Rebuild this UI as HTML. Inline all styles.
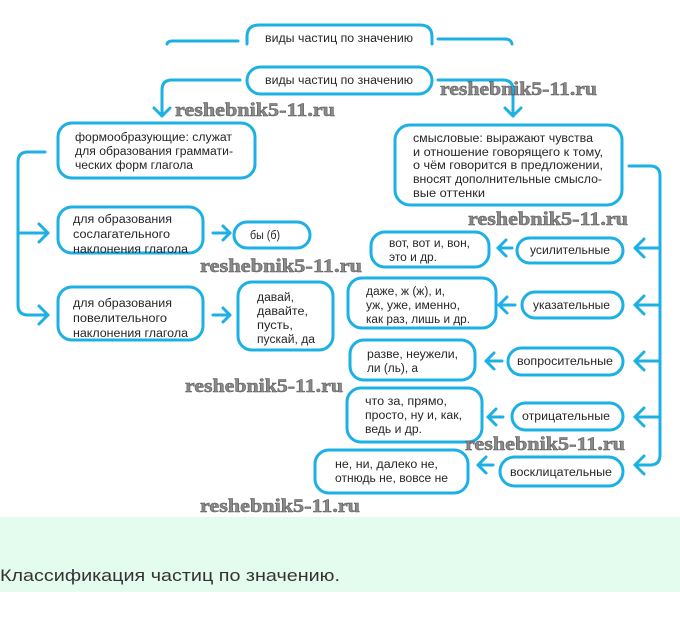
<!DOCTYPE html>
<html>
<head>
<meta charset="utf-8">
<style>
html,body{margin:0;padding:0;background:#fff;}
body{width:680px;height:626px;overflow:hidden;position:relative;}
svg{position:absolute;left:0;top:0;}
.t{font-family:"Liberation Sans","DejaVu Sans",sans-serif;font-size:11.5px;fill:#262626;}
.w{font-family:"Liberation Serif","DejaVu Serif",serif;font-weight:bold;font-size:19px;fill:#8a8a8a;stroke:#555;stroke-width:0.5;}
.b{fill:#fff;stroke:#1cb0e4;stroke-width:3;}
.l{fill:none;stroke:#1cb0e4;stroke-width:3;stroke-linecap:round;stroke-linejoin:round;}
</style>
</head>
<body>
<svg width="680" height="626" viewBox="0 0 680 626" xmlns="http://www.w3.org/2000/svg">
<rect x="0" y="517" width="680" height="75" fill="#e3fcee"/>
<text x="0" y="581" font-family="Liberation Sans, sans-serif" font-size="17" fill="#333" textLength="340" lengthAdjust="spacingAndGlyphs">Классификация частиц по значению.</text>

<!-- header (cropped) -->
<path class="l" d="M247,44 V37 Q247,25 259,25 H420 Q432,25 432,37 V44"/>
<path class="l" d="M167,44 Q168,41 172,41 H238"/>
<path class="l" d="M438,39 H505 Q511,39 512,44"/>
<text class="t" x="265" y="42" textLength="148" lengthAdjust="spacingAndGlyphs">виды частиц по значению</text>

<!-- main node -->
<rect class="b" x="247" y="67" width="185" height="27" rx="13.5"/>
<text class="t" x="265" y="84" textLength="148" lengthAdjust="spacingAndGlyphs">виды частиц по значению</text>

<!-- connectors from main -->
<path class="l" d="M240,80 H172 Q162,80 162,90 V116"/>
<path class="l" d="M154,108 L162,116 L170,108"/>
<path class="l" d="M438,80 H503 Q513,80 513,90 V116"/>
<path class="l" d="M505,108 L513,116 L521,108"/>

<!-- left branch -->
<rect class="b" x="58" y="123" width="197" height="55" rx="14"/>
<text class="t" x="75" y="141" textLength="157" lengthAdjust="spacingAndGlyphs">формообразующие: служат</text>
<text class="t" x="75" y="155" textLength="158" lengthAdjust="spacingAndGlyphs">для образования граммати-</text>
<text class="t" x="75" y="169" textLength="118" lengthAdjust="spacingAndGlyphs">ческих форм глагола</text>

<path class="l" d="M45,152 H28 Q18,152 18,162 V305 Q18,315 28,315 H48"/>
<path class="l" d="M18,233 H48"/>
<path class="l" d="M39,224 L48,233 L39,242"/>
<path class="l" d="M39,306 L48,315 L39,324"/>

<rect class="b" x="58" y="207" width="145" height="46" rx="14"/>
<text class="t" x="73" y="223" textLength="99" lengthAdjust="spacingAndGlyphs">для образования</text>
<text class="t" x="73" y="238" textLength="97" lengthAdjust="spacingAndGlyphs">сослагательного</text>
<text class="t" x="73" y="253" textLength="115" lengthAdjust="spacingAndGlyphs">наклонения глагола</text>

<path class="l" d="M213,233 H230"/>
<path class="l" d="M223,226 L230,233 L223,240"/>
<rect class="b" x="234" y="222" width="76" height="26" rx="13"/>
<text class="t" x="250" y="239" textLength="30" lengthAdjust="spacingAndGlyphs">бы (б)</text>

<rect class="b" x="58" y="287" width="145" height="53" rx="14"/>
<text class="t" x="73" y="307" textLength="99" lengthAdjust="spacingAndGlyphs">для образования</text>
<text class="t" x="73" y="322" textLength="94" lengthAdjust="spacingAndGlyphs">повелительного</text>
<text class="t" x="73" y="337" textLength="115" lengthAdjust="spacingAndGlyphs">наклонения глагола</text>

<path class="l" d="M213,315 H230"/>
<path class="l" d="M223,308 L230,315 L223,322"/>
<rect class="b" x="238" y="282" width="95" height="68" rx="14"/>
<text class="t" x="257" y="301" textLength="37" lengthAdjust="spacingAndGlyphs">давай,</text>
<text class="t" x="257" y="315" textLength="51" lengthAdjust="spacingAndGlyphs">давайте,</text>
<text class="t" x="257" y="329" textLength="36" lengthAdjust="spacingAndGlyphs">пусть,</text>
<text class="t" x="257" y="343" textLength="58" lengthAdjust="spacingAndGlyphs">пускай, да</text>

<!-- right branch -->
<rect class="b" x="395" y="125" width="227" height="80" rx="15"/>
<text class="t" x="413" y="142" textLength="180" lengthAdjust="spacingAndGlyphs">смысловые: выражают чувства</text>
<text class="t" x="413" y="156" textLength="190" lengthAdjust="spacingAndGlyphs">и отношение говорящего к тому,</text>
<text class="t" x="413" y="169" textLength="190" lengthAdjust="spacingAndGlyphs">о чём говорится в предложении,</text>
<text class="t" x="413" y="183" textLength="189" lengthAdjust="spacingAndGlyphs">вносят дополнительные смысло-</text>
<text class="t" x="413" y="197" textLength="72" lengthAdjust="spacingAndGlyphs">вые оттенки</text>

<path class="l" d="M629,166 H650 Q660,166 660,176 V455 Q660,465 650,465 H635"/>
<path class="l" d="M660,248 H635"/>
<path class="l" d="M644,239 L635,248 L644,257"/>
<path class="l" d="M660,305 H635"/>
<path class="l" d="M644,296 L635,305 L644,314"/>
<path class="l" d="M660,361 H635"/>
<path class="l" d="M644,352 L635,361 L644,370"/>
<path class="l" d="M660,417 H635"/>
<path class="l" d="M644,408 L635,417 L644,426"/>
<path class="l" d="M644,456 L635,465 L644,474"/>

<!-- categories -->
<rect class="b" x="517" y="238" width="106" height="25" rx="12.5"/>
<text class="t" x="530" y="254" textLength="80" lengthAdjust="spacingAndGlyphs">усилительные</text>
<rect class="b" x="522" y="292" width="101" height="26" rx="13"/>
<text class="t" x="533" y="309" textLength="77" lengthAdjust="spacingAndGlyphs">указательные</text>
<rect class="b" x="508" y="348" width="115" height="27" rx="13.5"/>
<text class="t" x="517" y="365" textLength="96" lengthAdjust="spacingAndGlyphs">вопросительные</text>
<rect class="b" x="512" y="403" width="111" height="27" rx="13.5"/>
<text class="t" x="522" y="420" textLength="88" lengthAdjust="spacingAndGlyphs">отрицательные</text>
<rect class="b" x="500" y="457" width="123" height="29" rx="14.5"/>
<text class="t" x="510" y="476" textLength="102" lengthAdjust="spacingAndGlyphs">восклицательные</text>

<!-- small arrows -->
<path class="l" d="M512,248 H498"/>
<path class="l" d="M506,240 L498,248 L506,256"/>
<path class="l" d="M515,305 H499"/>
<path class="l" d="M507,297 L499,305 L507,313"/>
<path class="l" d="M502,361 H486"/>
<path class="l" d="M494,353 L486,361 L494,369"/>
<path class="l" d="M503,417 H488"/>
<path class="l" d="M496,409 L488,417 L496,425"/>
<path class="l" d="M493,465 H478"/>
<path class="l" d="M486,457 L478,465 L486,473"/>

<!-- examples -->
<rect class="b" x="371" y="232" width="118" height="35" rx="14"/>
<text class="t" x="389" y="247" textLength="81" lengthAdjust="spacingAndGlyphs">вот, вот и, вон,</text>
<text class="t" x="389" y="261" textLength="48" lengthAdjust="spacingAndGlyphs">это и др.</text>

<rect class="b" x="348" y="278" width="148" height="50" rx="14"/>
<text class="t" x="366" y="295" textLength="79" lengthAdjust="spacingAndGlyphs">даже, ж (ж), и,</text>
<text class="t" x="366" y="309" textLength="94" lengthAdjust="spacingAndGlyphs">уж, уже, именно,</text>
<text class="t" x="366" y="323" textLength="104" lengthAdjust="spacingAndGlyphs">как раз, лишь и др.</text>

<rect class="b" x="350" y="340" width="125" height="40" rx="14"/>
<text class="t" x="367" y="358" textLength="91" lengthAdjust="spacingAndGlyphs">разве, неужели,</text>
<text class="t" x="367" y="372" textLength="51" lengthAdjust="spacingAndGlyphs">ли (ль), а</text>

<rect class="b" x="347" y="388" width="135" height="54" rx="14"/>
<text class="t" x="365" y="405" textLength="82" lengthAdjust="spacingAndGlyphs">что за, прямо,</text>
<text class="t" x="365" y="419" textLength="97" lengthAdjust="spacingAndGlyphs">просто, ну и, как,</text>
<text class="t" x="365" y="433" textLength="57" lengthAdjust="spacingAndGlyphs">ведь и др.</text>

<rect class="b" x="315" y="450" width="153" height="43" rx="14"/>
<text class="t" x="335" y="468" textLength="103" lengthAdjust="spacingAndGlyphs">не, ни, далеко не,</text>
<text class="t" x="335" y="482" textLength="113" lengthAdjust="spacingAndGlyphs">отнюдь не, вовсе не</text>

<!-- watermarks -->
<text class="w" x="175" y="116" textLength="160" lengthAdjust="spacingAndGlyphs">reshebnik5-11.ru</text>
<text class="w" x="440" y="95" textLength="157" lengthAdjust="spacingAndGlyphs">reshebnik5-11.ru</text>
<text class="w" x="468" y="225" textLength="160" lengthAdjust="spacingAndGlyphs">reshebnik5-11.ru</text>
<text class="w" x="200" y="272" textLength="162" lengthAdjust="spacingAndGlyphs">reshebnik5-11.ru</text>
<text class="w" x="185" y="392" textLength="158" lengthAdjust="spacingAndGlyphs">reshebnik5-11.ru</text>
<text class="w" x="465" y="450" textLength="160" lengthAdjust="spacingAndGlyphs">reshebnik5-11.ru</text>
<text class="w" x="200" y="512" textLength="160" lengthAdjust="spacingAndGlyphs">reshebnik5-11.ru</text>
</svg>
</body>
</html>
